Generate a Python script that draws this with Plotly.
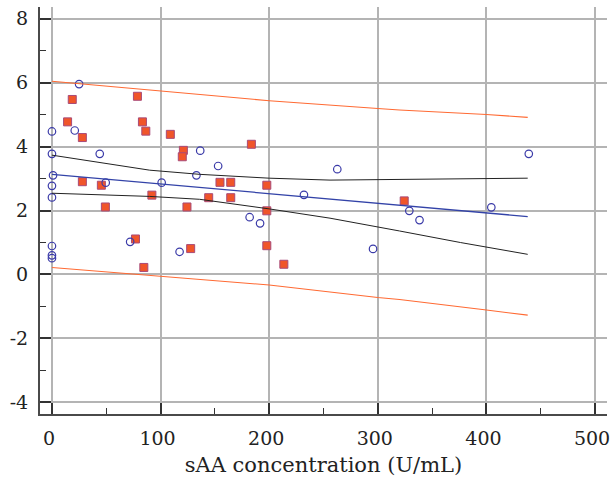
import plotly.graph_objects as go

# Blue open circles
circle_x = [0, 0, 1, 0, 0, 0, 0, 0, 25, 21, 44, 49.5, 72, 101, 117.5, 133, 136.5, 153,
            182, 191.6, 232, 262.7, 295.6, 329, 338.4, 404.5, 439]
circle_y = [4.47, 3.77, 3.1, 2.77, 2.41, 0.89, 0.6, 0.51, 5.95, 4.5, 3.77, 2.87, 1.02, 2.87,
            0.71, 3.1, 3.87, 3.39, 1.79, 1.6, 2.49, 3.29, 0.8, 1.99, 1.7, 2.1, 3.77]

# Orange filled squares
square_x = [18.7, 14.4, 28, 78.7, 83.3, 86.4, 109, 121, 120, 28, 45.5, 92, 49.2, 76.9, 127.7,
            84.6, 124.3, 183.6, 154.7, 164.6, 197.8, 144.3, 164.6, 197.8, 197.8, 213.5, 324.3]
square_y = [5.47, 4.77, 4.28, 5.57, 4.77, 4.48, 4.38, 3.88, 3.68, 2.9, 2.79, 2.48, 2.11, 1.11,
            0.81, 0.22, 2.11, 4.07, 2.88, 2.88, 2.79, 2.4, 2.4, 1.99, 0.9, 0.32, 2.3]

# Regression line
reg_x = [0, 438]
reg_y = [3.13, 1.81]

# Confidence band (black)
conf_x = [0, 90, 136, 200, 256, 300, 320, 376, 438]
conf_upper = [3.73, 3.26, 3.13, 3.01, 2.95, 2.96, 2.97, 2.98, 3.01]
conf_lower = [2.54, 2.44, 2.35, 2.05, 1.76, 1.5, 1.36, 1.0, 0.63]

# Prediction band (orange)
pred_x = [0, 136, 200, 300, 320, 400, 438]
pred_upper = [6.04, 5.62, 5.43, 5.19, 5.14, 5.0, 4.91]
pred_lower = [0.22, -0.16, -0.33, -0.72, -0.78, -1.11, -1.27]

x_ticks = [0, 100, 200, 300, 400, 500]
y_ticks = [-4, -2, 0, 2, 4, 6, 8]

fig = go.Figure()
fig.add_trace(go.Scatter(x=square_x, y=square_y, mode="markers",
                         marker=dict(symbol="square", size=8, color="#f0552a",
                                     line=dict(color="#a84a78", width=1)),
                         showlegend=False))
fig.add_trace(go.Scatter(x=circle_x, y=circle_y, mode="markers",
                         marker=dict(symbol="circle-open", size=7.5, color="#3a3aa8",
                                     line=dict(width=1.2)),
                         showlegend=False))
fig.add_trace(go.Scatter(x=pred_x, y=pred_upper, mode="lines",
                         line=dict(color="#ff6a33", width=1.1), showlegend=False))
fig.add_trace(go.Scatter(x=pred_x, y=pred_lower, mode="lines",
                         line=dict(color="#ff6a33", width=1.1), showlegend=False))
fig.add_trace(go.Scatter(x=conf_x, y=conf_upper, mode="lines",
                         line=dict(color="#222222", width=1), showlegend=False))
fig.add_trace(go.Scatter(x=conf_x, y=conf_lower, mode="lines",
                         line=dict(color="#222222", width=1), showlegend=False))
fig.add_trace(go.Scatter(x=reg_x, y=reg_y, mode="lines",
                         line=dict(color="#3343a8", width=1.3), showlegend=False))

font_family = "DejaVu Serif"
fig.update_layout(
    width=611, height=484,
    margin=dict(l=40, r=4, t=7, b=70),
    plot_bgcolor="white", paper_bgcolor="white",
    font=dict(family=font_family, size=19, color="#222222"),
)
fig.update_xaxes(
    automargin=False,
    range=[-11, 511], tickvals=x_ticks, ticktext=[str(v) for v in x_ticks],
    showgrid=True, gridcolor="#b4b4b4", gridwidth=1.5,
    showline=True, linecolor="#4a4a4a", linewidth=2,
    ticks="inside", ticklen=11, tickwidth=1.5, tickcolor="#333333",
    minor=dict(dtick=50, tick0=0, ticks="inside", ticklen=6, tickwidth=1, tickcolor="#333333", showgrid=False),
    ticklabelstandoff=6, ticklabelshift=-3, ticklabeloverflow="allow",
    tickfont=dict(family=font_family, size=19),
    zeroline=False,
    title=dict(text="sAA concentration (U/mL)", font=dict(size=21, family=font_family), standoff=10),
)
fig.update_yaxes(
    automargin=False,
    range=[-4.36, 8.36], tickvals=y_ticks, ticktext=[str(v) for v in y_ticks],
    showgrid=True, gridcolor="#b4b4b4", gridwidth=1.5,
    showline=True, linecolor="#4a4a4a", linewidth=2,
    ticks="inside", ticklen=11, tickwidth=1.5, tickcolor="#333333",
    minor=dict(dtick=1, tick0=0, ticks="inside", ticklen=6, tickwidth=1, tickcolor="#333333", showgrid=False),
    ticklabelstandoff=6, ticklabeloverflow="allow",
    tickfont=dict(family=font_family, size=19),
    zeroline=False,
)

fig.write_html("out.html", config={"displayModeBar": False},
               post_script="document.body.style.margin='0';")
